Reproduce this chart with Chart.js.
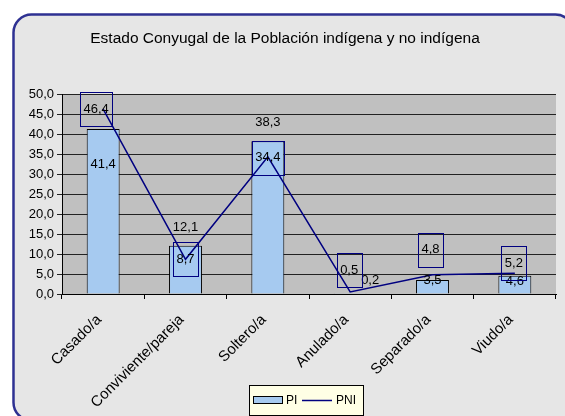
<!DOCTYPE html>
<html>
<head>
<meta charset="utf-8">
<script src="https://cdn.jsdelivr.net/npm/chart.js@4.4.0/dist/chart.umd.min.js"></script>
<style>
  html, body { margin: 0; padding: 0; background: #ffffff; }
  #caja { width: 565px; height: 416px; }
</style>
</head>
<body>
<div id="caja"><canvas id="grafico"></canvas></div>
<script>
const categorias = ["Casado/a", "Conviviente/pareja", "Soltero/a", "Anulado/a", "Separado/a", "Viudo/a"];
const valoresPI = [41.4, 12.1, 38.3, 0.2, 3.5, 4.6];
const valoresPNI = [46.4, 8.7, 34.4, 0.5, 4.8, 5.2];
const etiquetasY = ["0,0", "5,0", "10,0", "15,0", "20,0", "25,0", "30,0", "35,0", "40,0", "45,0", "50,0"];

const FUENTE = "'Liberation Sans', Arial, sans-serif";
const colorBarra = "#a6caf0";
const colorLinea = "#000080";

// desplazamiento de las etiquetas (px) respecto al tope de barra / punto de linea
const despBarra = [[0, 35], [0, -18], [0, -19], [20, -13], [0, 0], [0, 6]];
const despLinea = [[-7, 0], [0, 0], [0, 1], [-1, -22], [-2, -25], [-1, -10]];

function num(v) {
  return v.toFixed(1).replace(".", ",");
}

// marco redondeado y fondo del area de trazado
const fondo = {
  id: "fondo",
  beforeDraw(chart) {
    const ctx = chart.ctx;
    const a = chart.chartArea;
    ctx.save();
    ctx.fillStyle = "#ffffff";
    ctx.fillRect(0, 0, chart.width, chart.height);
    ctx.beginPath();
    ctx.roundRect(13.5, 14.5, 560, 406, 18);
    ctx.fillStyle = "#e6e6e6";
    ctx.fill();
    ctx.lineWidth = 2.5;
    ctx.strokeStyle = "#2e3192";
    ctx.stroke();
    ctx.fillStyle = "#c0c0c0";
    ctx.fillRect(a.left, a.top, a.right - a.left, a.bottom - a.top);
    ctx.restore();
  }
};

// etiquetas de datos y leyenda
const etiquetas = {
  id: "etiquetas",
  afterDatasetsDraw(chart) {
    const ctx = chart.ctx;
    ctx.save();
    ctx.font = "13px " + FUENTE;
    ctx.textAlign = "center";
    ctx.textBaseline = "middle";
    ctx.fillStyle = "#000";

    const barras = chart.getDatasetMeta(0).data;
    barras.forEach((b, i) => {
      ctx.fillText(num(valoresPI[i]), b.x + despBarra[i][0], b.y + despBarra[i][1]);
    });

    const puntos = chart.getDatasetMeta(1).data;
    puntos.forEach((p, i) => {
      const t = num(valoresPNI[i]);
      const x = p.x + despLinea[i][0];
      const y = p.y + despLinea[i][1];
      const w = ctx.measureText(t).width + 7;
      ctx.strokeStyle = colorLinea;
      ctx.lineWidth = 1;
      ctx.strokeRect(Math.round(x - w / 2) + 0.5, Math.round(y - 17) + 0.5, Math.round(w), 34);
      ctx.fillText(t, x, y);
    });

    // leyenda
    ctx.fillStyle = "#ffffe5";
    ctx.fillRect(249.5, 385.5, 114, 30);
    ctx.strokeStyle = "#000";
    ctx.lineWidth = 1;
    ctx.strokeRect(249.5, 385.5, 114, 30);
    ctx.fillStyle = colorBarra;
    ctx.fillRect(253.5, 396.5, 29, 7);
    ctx.strokeRect(253.5, 396.5, 29, 7);
    ctx.beginPath();
    ctx.moveTo(302, 400.5);
    ctx.lineTo(332, 400.5);
    ctx.strokeStyle = colorLinea;
    ctx.lineWidth = 1.5;
    ctx.stroke();
    ctx.fillStyle = "#000";
    ctx.font = "12px " + FUENTE;
    ctx.textAlign = "left";
    ctx.fillText(chart.data.datasets[0].label, 286, 401);
    ctx.fillText(chart.data.datasets[1].label, 336, 401);
    ctx.restore();
  }
};

new Chart(document.getElementById("grafico"), {
  type: "bar",
  data: {
    labels: categorias,
    datasets: [
      {
        label: "PI",
        data: valoresPI,
        backgroundColor: colorBarra,
        borderColor: "#000000",
        borderWidth: 1,
        barPercentage: 0.4,
        categoryPercentage: 1,
        order: 2
      },
      {
        type: "line",
        label: "PNI",
        data: valoresPNI,
        borderColor: colorLinea,
        borderWidth: 1.5,
        pointRadius: 0,
        tension: 0,
        fill: false,
        order: 1
      }
    ]
  },
  options: {
    responsive: true,
    maintainAspectRatio: false,
    animation: false,
    layout: { padding: { left: 14, right: 9, top: 0, bottom: 0 } },
    plugins: {
      legend: { display: false },
      tooltip: { enabled: false },
      title: {
        display: true,
        text: "Estado Conyugal de la Población indígena y no indígena",
        color: "#000",
        font: { family: FUENTE, size: 15.5, weight: "normal" },
        padding: { top: 29.7, bottom: 46.4 }
      }
    },
    scales: {
      x: {
        grid: { display: true, drawOnChartArea: false, drawTicks: true, tickLength: 5, color: "#000", offset: true },
        border: { color: "#000" },
        ticks: {
          color: "#000",
          font: { family: FUENTE, size: 15 },
          maxRotation: 45,
          minRotation: 45,
          autoSkip: false,
          padding: 12,
          labelOffset: -4
        },
        afterFit(s) { s.height = 122; }
      },
      y: {
        min: 0,
        max: 50,
        grid: { color: "#222", tickLength: 5 },
        border: { color: "#000" },
        ticks: {
          stepSize: 5,
          autoSkip: false,
          color: "#000",
          font: { family: FUENTE, size: 13 },
          padding: 3,
          callback: (v, i) => etiquetasY[i]
        },
        afterFit(s) { s.width = 48; }
      }
    }
  },
  plugins: [fondo, etiquetas]
});
</script>
</body>
</html>
